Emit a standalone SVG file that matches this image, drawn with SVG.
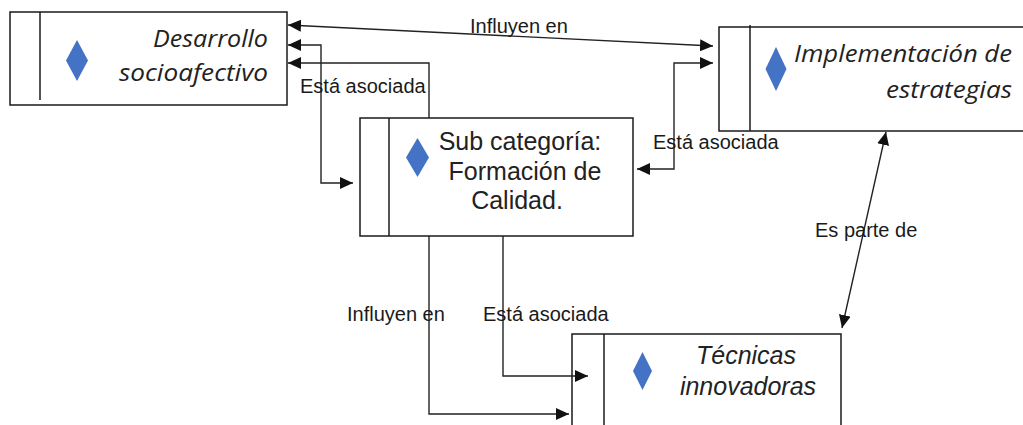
<svg xmlns="http://www.w3.org/2000/svg" width="1023" height="425" viewBox="0 0 1023 425">
<style>
.box{fill:#fff;stroke:#1a1a1a;stroke-width:1.5}
.div{stroke:#1a1a1a;stroke-width:1.5;fill:none}
.dia{fill:#4472C4}
.it{font-family:"Open Sans","Liberation Sans",sans-serif;font-style:italic;font-size:24px;fill:#222}
.it2{font-family:"Liberation Sans",Arial,sans-serif;font-style:italic;font-size:25px;fill:#222}
.sub{font-family:"Liberation Sans",Arial,sans-serif;font-size:25px;fill:#222;text-anchor:middle}
.lbl{font-family:"Liberation Sans",Arial,sans-serif;font-size:20px;fill:#1a1a1a}
.con{fill:none;stroke:#222;stroke-width:1.4}
</style>
<defs>
<marker id="ah" markerUnits="userSpaceOnUse" markerWidth="13" markerHeight="12" viewBox="0 0 13 12" refX="13" refY="6" orient="auto-start-reverse">
<path d="M0,0 L13,6 L0,12 z" fill="#111"/>
</marker>
</defs>
<rect width="1023" height="425" fill="#fff"/>
<g id="n-desarrollo">
<rect class="box" x="10" y="12" width="277" height="93"/>
<line class="div" x1="40" y1="12" x2="40" y2="100"/>
<path class="dia" d="M77,40 L88,60.5 L77,81 L66,60.5 z"/>
<text class="it" x="268" y="47" text-anchor="end" textLength="115" lengthAdjust="spacingAndGlyphs">Desarrollo</text>
<text class="it" x="268" y="81" text-anchor="end" textLength="149" lengthAdjust="spacingAndGlyphs">socioafectivo</text>
</g>
<g id="n-implementacion">
<rect class="box" x="719" y="27" width="310" height="104"/>
<line class="div" x1="750" y1="25" x2="750" y2="131"/>
<path class="dia" d="M776,47 L786.5,69 L776,91 L765.5,69 z"/>
<text class="it" x="1012" y="62" text-anchor="end" textLength="218" lengthAdjust="spacingAndGlyphs">Implementación de</text>
<text class="it" x="1012" y="98" text-anchor="end" textLength="126" lengthAdjust="spacingAndGlyphs">estrategias</text>
</g>
<g id="n-subcategoria">
<rect class="box" x="360" y="118" width="273" height="118"/>
<line class="div" x1="389" y1="118" x2="389" y2="236"/>
<path class="dia" d="M417.5,138 L429,157.5 L417.5,177 L406,157.5 z"/>
<text class="sub" x="520" y="150">Sub categoría:</text>
<text class="sub" x="525" y="180">Formación de</text>
<text class="sub" x="517" y="209">Calidad.</text>
</g>
<g id="n-tecnicas">
<rect class="box" x="572" y="334" width="269" height="100"/>
<line class="div" x1="604" y1="334" x2="604" y2="430"/>
<path class="dia" d="M642.5,352 L652,371 L642.5,390 L633,371 z"/>
<text class="it2" x="746" y="364" text-anchor="middle">Técnicas</text>
<text class="it2" x="748" y="395" text-anchor="middle">innovadoras</text>
</g>
<g id="connectors">
<line class="con" x1="288" y1="25" x2="713" y2="46" marker-start="url(#ah)" marker-end="url(#ah)"/>
<path class="con" d="M288,45 H321 V183 H353" marker-start="url(#ah)" marker-end="url(#ah)"/>
<path class="con" d="M429,118 V63 H288" marker-end="url(#ah)"/>
<path class="con" d="M713,63 H674 V169 H637" marker-start="url(#ah)" marker-end="url(#ah)"/>
<line class="con" x1="886" y1="132" x2="842" y2="328" marker-start="url(#ah)" marker-end="url(#ah)"/>
<path class="con" d="M429,236 V414 H569" marker-end="url(#ah)"/>
<path class="con" d="M503,236 V376 H588" marker-end="url(#ah)"/>
<text class="lbl" x="470" y="33">Influyen en</text>
<text class="lbl" x="300" y="93">Está asociada</text>
<text class="lbl" x="653" y="149">Está asociada</text>
<text class="lbl" x="347" y="321">Influyen en</text>
<text class="lbl" x="483" y="321">Está asociada</text>
<text class="lbl" x="815" y="237">Es parte de</text>
</g>
</svg>
